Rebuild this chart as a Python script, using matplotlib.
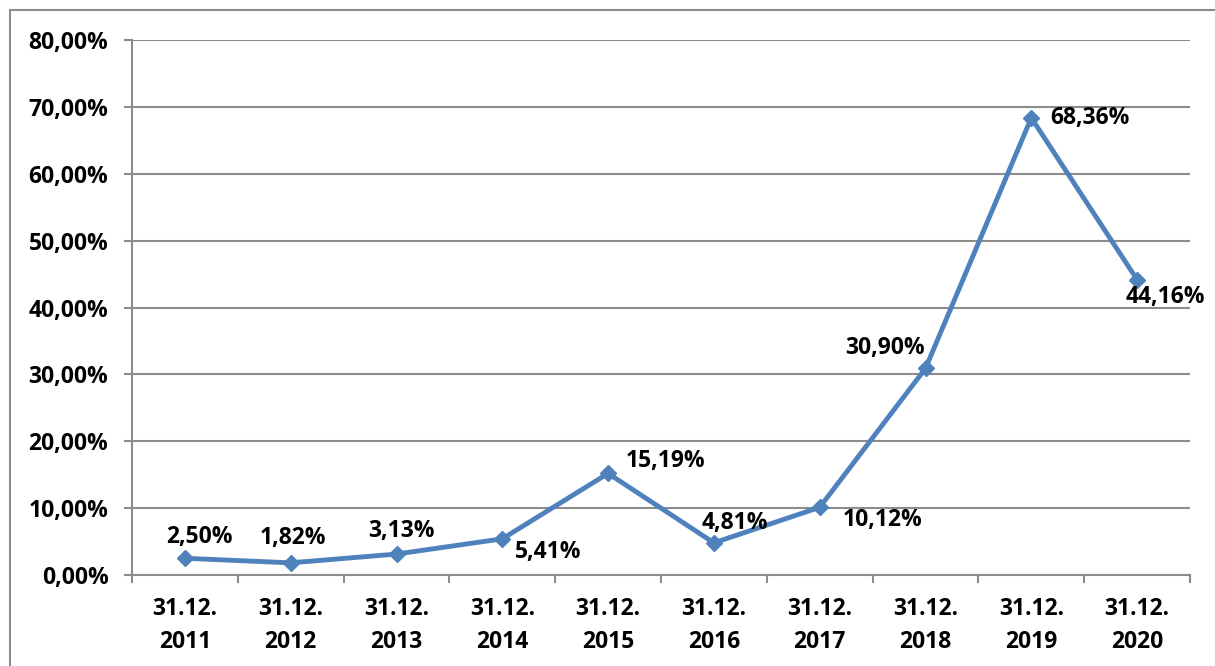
import matplotlib
matplotlib.use("Agg")
import matplotlib.pyplot as plt
from matplotlib.patches import Rectangle
from matplotlib.ticker import FuncFormatter

# === DATA ===
dates = ["31.12.\n2011", "31.12.\n2012", "31.12.\n2013", "31.12.\n2014", "31.12.\n2015",
         "31.12.\n2016", "31.12.\n2017", "31.12.\n2018", "31.12.\n2019", "31.12.\n2020"]
values = [2.50, 1.82, 3.13, 5.41, 15.19, 4.81, 10.12, 30.90, 68.36, 44.16]
y_ticks = [0, 10, 20, 30, 40, 50, 60, 70, 80]

# label offsets (pixels) from each point, mimicking the Excel layout
label_offsets = [(15, 21), (2, 25), (5, 23), (46, -13), (57, 12),
                 (21, 20), (63, -13), (-41, 20), (59, 0), (28, -17)]
# ============

LINE_COLOR = "#4F81BD"
GRID_COLOR = "#8C8C8C"
FONT = ["Open Sans", "DejaVu Sans"]
FS = 16.5

plt.rcParams["font.family"] = FONT
plt.rcParams["font.weight"] = "bold"

fig = plt.figure(figsize=(12.15, 6.66), dpi=100)
fig.patch.set_facecolor("white")
ax = fig.add_axes([132 / 1215, 91 / 666, 1058 / 1215, 535 / 666])

# outer chart border (runs off the right and bottom of the image)
fig.patches.append(Rectangle((10 / 1215, -0.2), 1.2, 1.2 - 10 / 666,
                             transform=fig.transFigure, fill=False,
                             edgecolor=GRID_COLOR, linewidth=1.5))

x = list(range(len(values)))
ax.plot(x, values, color=LINE_COLOR, linewidth=3.5, marker="D", markersize=8.5,
        markerfacecolor=LINE_COLOR, markeredgecolor=LINE_COLOR, zorder=3)

for xi, v, (dx, dy) in zip(x, values, label_offsets):
    ax.annotate(f"{v:.2f}%".replace(".", ","), (xi, v), xytext=(dx, dy),
                textcoords="offset pixels", ha="center", va="center",
                fontsize=FS, fontweight="bold", color="black", zorder=4)

ax.set_xlim(-0.5, len(values) - 0.5)
ax.set_ylim(0, 80)
ax.set_yticks(y_ticks)
ax.yaxis.set_major_formatter(FuncFormatter(lambda v, p: f"{v:.2f}%".replace(".", ",")))
ax.set_xticks(x)
ax.set_xticklabels(dates, fontsize=FS, fontweight="bold", linespacing=1.5)
ax.set_xticks([i - 0.5 for i in range(len(values) + 1)], minor=True)

ax.tick_params(axis="x", which="major", length=0, pad=16)
ax.tick_params(axis="x", which="minor", length=6, width=1.5, color=GRID_COLOR, direction="out")
ax.tick_params(axis="y", length=6, width=1.5, color=GRID_COLOR, direction="out", pad=11,
               labelsize=FS)
for lab in ax.get_yticklabels():
    lab.set_fontweight("bold")

ax.grid(axis="y", color=GRID_COLOR, linewidth=1.5)
ax.set_axisbelow(True)
for side in ["top", "right"]:
    ax.spines[side].set_visible(False)
for side in ["left", "bottom"]:
    ax.spines[side].set_color(GRID_COLOR)
    ax.spines[side].set_linewidth(1.5)

fig.savefig("out.png", dpi=100)
